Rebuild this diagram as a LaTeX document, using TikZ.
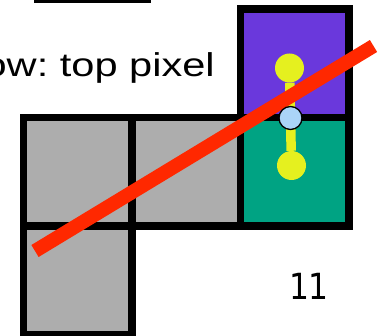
\documentclass[tikz,border=0pt]{standalone}
\usepackage{fontspec}
\usepackage{tikz}
\usetikzlibrary{positioning}
\newfontfamily\labelfont{Liberation Sans}
\newfontfamily\numfont{DejaVu Sans}
\frenchspacing
\definecolor{CellGray}{HTML}{ADADAD}
\definecolor{CellPurple}{HTML}{6A38DC}
\definecolor{CellGreen}{HTML}{00A383}
\definecolor{Sample}{HTML}{E5F01F}
\definecolor{Hit}{HTML}{AAD4F8}
\definecolor{Ray}{HTML}{FF2800}
\tikzset{
  cell/.style={draw=black,line width=7.5pt,line join=miter},
  stem/.style={draw=Sample,line width=9.5pt},
  sample/.style={circle,fill=Sample,minimum size=29pt,inner sep=0pt},
  hit/.style={circle,draw=black,fill=Hit,line width=1.3pt,minimum size=23pt,inner sep=0pt},
  ray/.style={draw=Ray,line width=14pt},
  caption/.style={inner sep=0pt,font=\labelfont\fontsize{33}{38}\selectfont,xscale=1.26}
}

\begin{document}
\begin{tikzpicture}[x=1pt,y=-1pt]
  \useasboundingbox (0,0) rectangle (381,336);
  \clip (0,0) rectangle (381,336);
  \fill[black] (34,0) rectangle (151,3.3);
  \node[caption,anchor=base east] (title) at (215,77) {ow: top pixel};
  % pixel cells, column/row/fill
  \foreach \cx/\cy/\col in {0/1/CellGray,1/1/CellGray,0/2/CellGray,2/0/CellPurple,2/1/CellGreen}
    \draw[cell,fill=\col] (23.5+108.5*\cx,9+108.5*\cy) rectangle ++(108.5,108.5);
  % samples on the two stacked pixels
  \node[sample] (top) at (289.5,68) {};
  \node[sample] (bot) at (291.5,165.5) {};
  \coordinate (edge) at (290.5,118);
  \draw[stem] (top) -- (edge);
  \draw[stem] (edge) -- (bot);
  \coordinate (r0) at (35,251);
  \coordinate (r1) at (373.5,46);
  \draw[ray] (r0) -- (r1);
  \node[hit] (x) at (edge) {};
  \node[anchor=base,inner sep=0pt,font=\numfont\fontsize{36}{44}\selectfont,xscale=0.87] (num) at (309,299.5) {11};
\end{tikzpicture}
\end{document}
